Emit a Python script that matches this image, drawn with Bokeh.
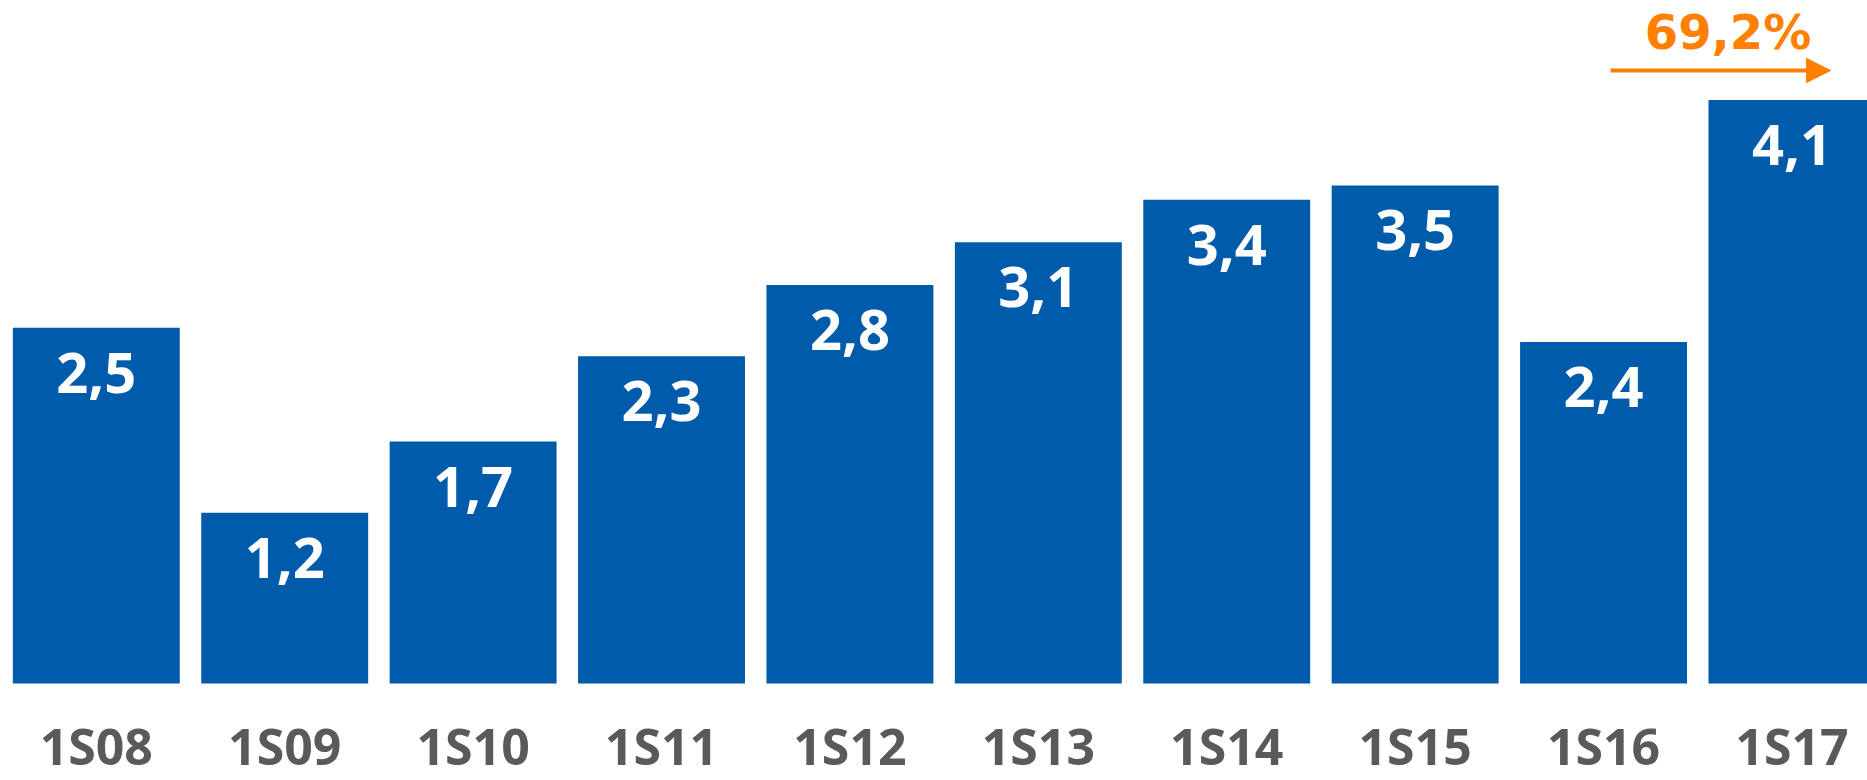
from bokeh.plotting import figure
from bokeh.models import Range1d, ColumnDataSource, Arrow, NormalHead
from bokeh.core.properties import value
from bokeh.embed import file_html
from bokeh.resources import INLINE

# data
categories = ["1S08", "1S09", "1S10", "1S11", "1S12", "1S13", "1S14", "1S15", "1S16", "1S17"]
values = [2.5, 1.2, 1.7, 2.3, 2.8, 3.1, 3.4, 3.5, 2.4, 4.1]
growth_label = "69,2%"

BLUE = "#005BAA"
ORANGE = "#FF7F00"
GRAY = "#5A5A5A"

xs = list(range(len(categories)))
src = ColumnDataSource(dict(
    x=xs,
    top=values,
    cat=categories,
    lbl=[f"{v:.1f}".replace(".", ",") for v in values],
    zero=[0] * len(values),
))

p = figure(width=1867, height=780, output_backend="svg", toolbar_location=None,
           x_range=Range1d(-0.5085, 9.401), y_range=Range1d(-0.6817, 4.7997),
           min_border=0, min_border_left=0, min_border_right=0,
           min_border_top=0, min_border_bottom=0)
p.axis.visible = False
p.grid.visible = False
p.outline_line_color = None
p.background_fill_color = "white"
p.border_fill_color = "white"

p.vbar(x="x", top="top", bottom=0, width=0.886, source=src,
       fill_color=BLUE, line_color=None)

p.text(x="x", y="top", text="lbl", source=src, text_align="center",
       text_baseline="alphabetic", y_offset=45,
       text_font=value("Open Sans"), text_font_style="bold",
       text_font_size="56px", text_color="white")

p.text(x="x", y="zero", text="cat", source=src, text_align="center",
       text_baseline="alphabetic", y_offset=63,
       text_font=value("Open Sans"), text_font_style="bold",
       text_font_size="50px", text_color=GRAY)

# growth annotation
p.add_layout(Arrow(x_start=8.037, y_start=4.308, x_end=9.205, y_end=4.308,
                   line_color=ORANGE, line_width=4,
                   end=NormalHead(size=24, fill_color=ORANGE, line_color=ORANGE, line_width=1)))
p.text(x=[8.661], y=[4.575], text=[growth_label], text_align="center",
       text_baseline="alphabetic", text_font=value("DejaVu Sans"),
       text_font_style="bold", text_font_size="48px", text_color=ORANGE)

open("out.html", "w").write(file_html(p, INLINE))
